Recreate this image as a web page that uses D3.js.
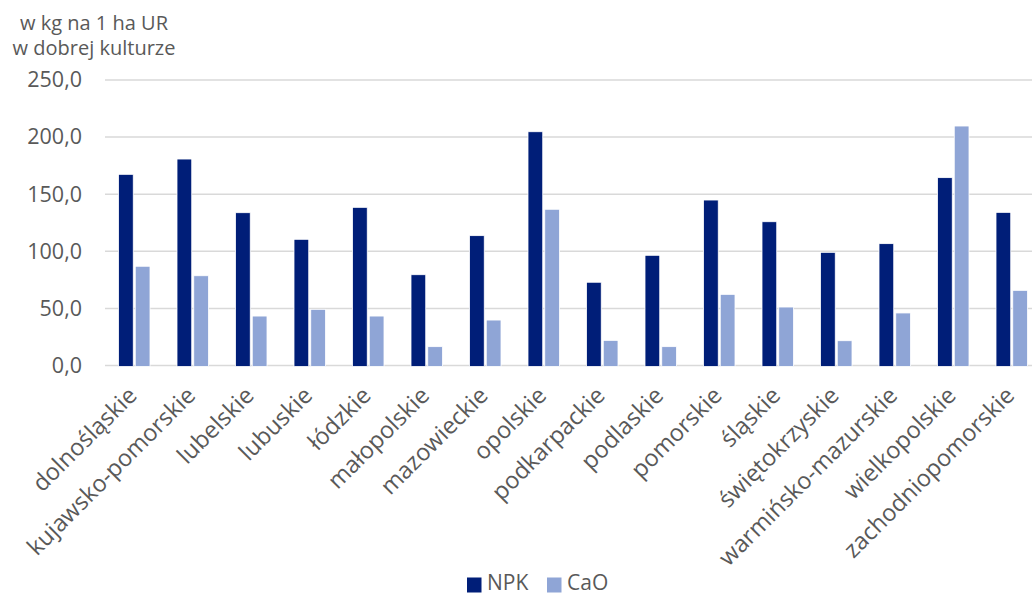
<!DOCTYPE html>
<html><head><meta charset="utf-8">
<script src="https://cdn.jsdelivr.net/npm/d3@7"></script>
<style>body{margin:0;background:#fff}svg{display:block}</style>
</head><body>
<svg id="c" width="1032" height="595"></svg>
<script>
const categories = ["dolnośląskie","kujawsko-pomorskie","lubelskie","lubuskie","łódzkie","małopolskie","mazowieckie","opolskie","podkarpackie","podlaskie","pomorskie","śląskie","świętokrzyskie","warmińsko-mazurskie","wielkopolskie","zachodniopomorskie"];
const seriesNames = ["NPK","CaO"];
const npkValues = [167.4,180.8,133.8,110.5,138.5,79.5,113.7,204.7,72.9,96.5,144.9,125.9,99.1,106.7,164.5,134.1];
const caoValues = [86.9,78.6,43.3,49.2,43.3,16.5,39.8,136.8,22.0,16.5,62.3,51.2,21.7,46.0,209.7,65.8];
const yTicks = [0,50,100,150,200,250];
const titleLines = ["w kg na 1 ha UR","w dobrej kulturze"];
const colors = ["#001E78","#8FA5D6"];

const font = "'Open Sans', sans-serif";
const svg = d3.select("#c");
const y = d3.scaleLinear().domain([0,250]).range([365.5,80]);
const x0 = d3.scaleBand().domain(categories).range([105,1041]).padding(0);
const x1 = d3.scaleBand().domain(seriesNames).range([13.5,45]).paddingInner(0.12);
const fmt = v => d3.format(".1f")(v).replace(".", ",");

// gridlines
svg.append("g").selectAll("line").data(yTicks).join("line")
  .attr("x1",105).attr("x2",1032)
  .attr("y1",d=>y(d)).attr("y2",d=>y(d))
  .attr("stroke","#d9d9d9").attr("stroke-width",1.5);

// y axis labels
const yAxis = d3.axisLeft(y).tickValues(yTicks).tickFormat(fmt).tickSize(0).tickPadding(0);
const ga = svg.append("g").attr("transform","translate(82,0)").call(yAxis);
ga.select(".domain").remove();
ga.selectAll("text").attr("font-family",font).attr("font-size",21.5).attr("fill","#595959");

// title (one text, two lines)
const title = svg.append("text").attr("text-anchor","middle")
  .attr("font-family",font).attr("font-size",20).attr("fill","#595959");
title.selectAll("tspan").data(titleLines).join("tspan")
  .attr("x",94).attr("y",(d,i)=>30+i*25).text(d=>d);

// bars
const data = categories.map((c,i)=>({c, vals:[{s:"NPK",v:npkValues[i]},{s:"CaO",v:caoValues[i]}]}));
const grp = svg.append("g").selectAll("g").data(data).join("g")
  .attr("transform",d=>`translate(${x0(d.c)},0)`);
grp.selectAll("rect").data(d=>d.vals).join("rect")
  .attr("x",d=>x1(d.s)).attr("width",x1.bandwidth())
  .attr("y",d=>y(d.v)).attr("height",d=>y(0)-y(d.v)+1)
  .attr("fill",(d,i)=>colors[i]).attr("stroke","#ffffff").attr("stroke-width",0.8);

// category labels
svg.append("g").selectAll("text").data(categories).join("text")
  .attr("transform",d=>`translate(${x0(d)+x0.bandwidth()/2+4},397) rotate(-45)`)
  .attr("text-anchor","end").attr("font-family",font).attr("font-size",23.5).attr("fill","#595959")
  .text(d=>d);

// legend
const leg = svg.append("g");
const legX = [467,547];
seriesNames.forEach((s,i)=>{
  leg.append("rect").attr("x",legX[i]).attr("y",577.5).attr("width",14.5).attr("height",15).attr("fill",colors[i]);
  leg.append("text").attr("x",legX[i]+20).attr("y",589.5).attr("font-family",font).attr("font-size",21).attr("fill","#595959").text(s);
});
</script>
</body></html>
